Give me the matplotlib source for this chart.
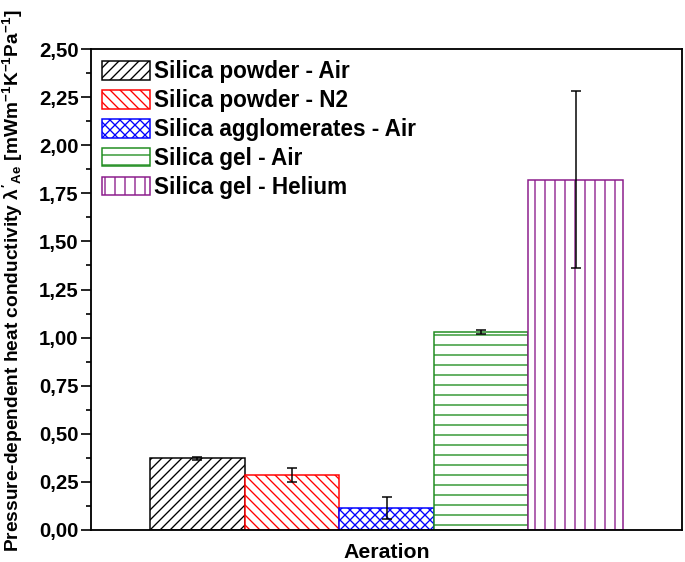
import matplotlib
matplotlib.use("Agg")
import matplotlib.pyplot as plt
from matplotlib.ticker import MultipleLocator, FuncFormatter

categories = ["Silica powder - Air", "Silica powder - N2", "Silica agglomerates - Air",
              "Silica gel - Air", "Silica gel - Helium"]
values = [0.374, 0.286, 0.114, 1.03, 1.82]
errors = [0.008, 0.036, 0.058, 0.010, 0.46]
colors = ["#000000", "#ff0000", "#0000ff", "#1e8c1e", "#8b1a8b"]
hatches = ["//", "\\\\", "xx", "-", "|"]
group_label = "Aeration"

DPI = 60
plt.rcParams["font.family"] = ["Liberation Sans", "DejaVu Sans"]
plt.rcParams["font.weight"] = "bold"
plt.rcParams["mathtext.fontset"] = "custom"
plt.rcParams["mathtext.rm"] = "Liberation Sans:bold"
plt.rcParams["mathtext.it"] = "Liberation Sans:bold"
plt.rcParams["mathtext.bf"] = "Liberation Sans:bold"
plt.rcParams["hatch.linewidth"] = 1.6

fig = plt.figure(figsize=(685 / DPI, 562 / DPI), dpi=DPI)
ax = fig.add_axes([91 / 685, 32 / 562, 591 / 685, 481 / 562])

x = list(range(len(categories)))
bars = ax.bar(x, values, width=1.0, color="white", edgecolor=colors, linewidth=1.8)
for b, h, c, lab in zip(bars, hatches, colors, categories):
    b.set_hatch(h)
    b.set_edgecolor(c)
    b.set_label(lab)
ax.errorbar(x, values, yerr=errors, fmt="none", ecolor="black", elinewidth=1.8,
            capsize=6, capthick=1.8)

ax.set_xlim(-1.125, 5.125)
ax.set_ylim(0, 2.5)
ax.set_xticks([2])
ax.set_xticklabels([group_label], fontsize=25.5, fontweight="bold")
ax.tick_params(axis="x", length=0, pad=15)
ax.yaxis.set_major_locator(MultipleLocator(0.25))
ax.yaxis.set_minor_locator(MultipleLocator(0.125))
ax.yaxis.set_major_formatter(FuncFormatter(lambda v, p: f"{v:.2f}".replace(".", ",")))
ax.tick_params(axis="y", which="major", direction="out", length=12, width=2,
               labelsize=24.5, pad=3)
ax.tick_params(axis="y", which="minor", direction="out", length=6, width=2)
for lbl in ax.get_yticklabels():
    lbl.set_fontweight("bold")
for s in ax.spines.values():
    s.set_linewidth(2.2)

ax.set_ylabel(r"Pressure-dependent heat conductivity $\lambda'_{Ae}$ [mWm$^{-1}$K$^{-1}$Pa$^{-1}$]",
              fontsize=23, fontweight="bold")
ax.yaxis.set_label_coords(-66 / 591, 0.518)

leg = ax.legend(loc="upper left", frameon=False, handlelength=2.13,
                handleheight=0.9, labelspacing=0.26, handletextpad=0.18,
                borderaxespad=0.3, borderpad=0.2, prop={"weight": "bold", "size": 27})
fig.savefig("out.png", dpi=DPI)
